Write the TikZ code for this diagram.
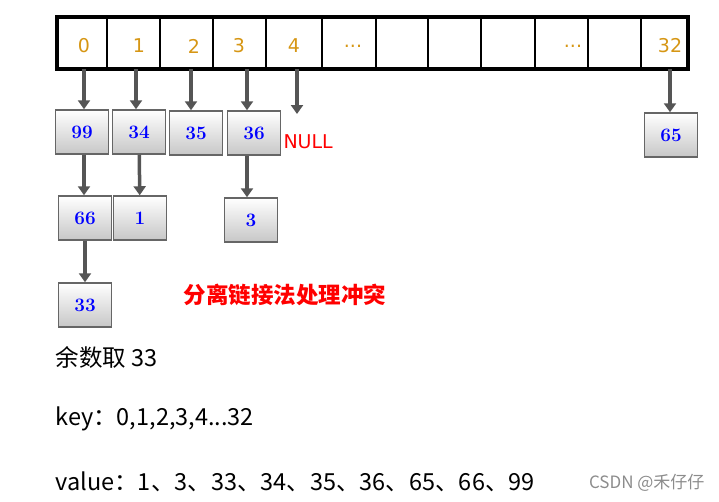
\documentclass[tikz,border=0pt]{standalone}
\usepackage{fontspec}
\setmainfont{DejaVu Sans}
\newfontfamily\cjk{Noto Sans CJK SC}
\newfontfamily\lm{Latin Modern Roman}
\usetikzlibrary{arrows.meta}
\definecolor{idx}{RGB}{214,150,20}
\definecolor{arr}{RGB}{85,85,85}
\tikzset{
 cellbox/.style={draw=black!85,line width=1.2pt},
 idxlab/.style={text=idx,font=\fontsize{19}{22}\selectfont},
 valbox/.style={draw=arr!90,line width=1.5pt,top color=white,bottom color=black!22,minimum width=53pt,minimum height=44pt,inner sep=0pt,text=blue,font=\lm\bfseries\fontsize{19}{22}\selectfont},
 link/.style={draw=arr,line width=3.5pt,-{Triangle[length=9pt,width=12pt]}},
 txt/.style={anchor=west,font=\cjk\fontsize{23.5}{27}\selectfont}
}
\begin{document}
\begin{tikzpicture}[x=1pt,y=-1pt]
\useasboundingbox (0,0) rectangle (719,501);
\draw[line width=3.5pt] (57,17) rectangle (688,69);
\foreach \x in {107,160,213,266,322,376,428,481,535,588,641} \draw[line width=1.2pt] (\x,17)--(\x,69);
\node[idxlab] (i0) at (84,46) {0};
\node[idxlab] (i1) at (139,46) {1};
\node[idxlab] (i2) at (194,46) {2};
\node[idxlab] (i3) at (239,46) {3};
\node[idxlab] (i4) at (294,46) {4};
\node[idxlab] (i5) at (353,46) {...};
\node[idxlab] (i6) at (573,46) {...};
\node[idxlab] (i32) at (670,46) {32};
\coordinate (t0) at (84,69); \coordinate (t1) at (136,69); \coordinate (t2) at (191,69);
\coordinate (t3) at (247,69); \coordinate (t4) at (297,69); \coordinate (t32) at (670,69);
\coordinate (e4) at (297,114);
\node[valbox] (b99) at (82,132) {99};
\node[valbox] (b34) at (139,132) {34};
\node[valbox] (b35) at (196,133) {35};
\node[valbox] (b36) at (254,133) {36};
\node[valbox] (b65) at (671,135) {65};
\node[valbox] (b66) at (85,218) {66};
\node[valbox] (b1) at (140,218) {1};
\node[valbox] (b3) at (251,220) {3};
\node[valbox] (b33) at (85,305) {33};
\node[text=red,anchor=west,font=\fontsize{19}{22}\selectfont] (null) at (280,142) {NULL};
\draw[link] (t0) -- (b99.north -| t0);
\draw[link] (t1) -- (b34.north -| t1);
\draw[link] (t2) -- (b35.north -| t2);
\draw[link] (t3) -- (b36.north -| t3);
\draw[link] (t4) -- (e4);
\draw[link] (t32) -- (b65.north -| t32);
\draw[link] (b99.south -| t0) -- (b66.north -| t0);
\draw[link] (b34) -- (b1);
\draw[link] (b36.south -| t3) -- (b3.north -| t3);
\draw[link] (b66) -- (b33);
\node[text=red,font=\cjk\bfseries\fontsize{22.5}{27}\selectfont] (title) at (285,295) {分离链接法处理冲突};
\node[txt] (l1) at (52,357) {余数取 33};
\node[txt] (l2) at (52,419) {key：0,1,2,3,4...32};
\node[txt] (l3) at (52,482) {value：1、3、33、34、35、36、65、66、99};
\node[anchor=east,text=black!45,font=\cjk\fontsize{17}{20}\selectfont] (csdn) at (708,483) {CSDN @禾仔仔};
\end{tikzpicture}
\end{document}
